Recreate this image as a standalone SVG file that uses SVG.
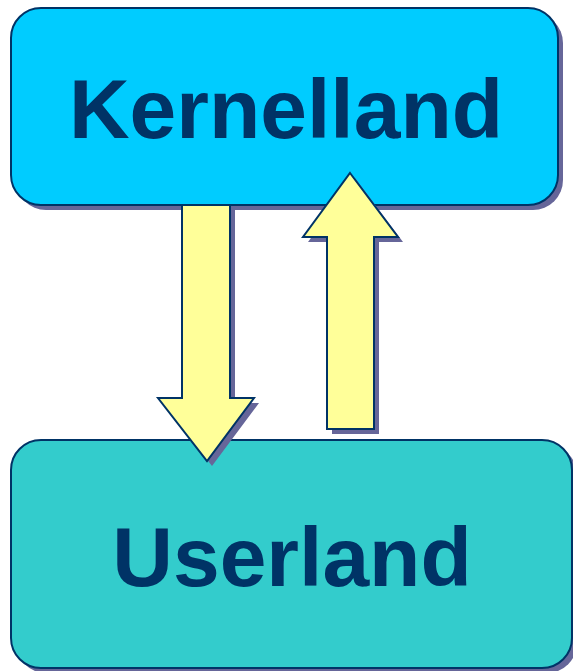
<svg xmlns="http://www.w3.org/2000/svg" width="573" height="671" viewBox="0 0 573 671">
<style>
.box{stroke:#003366;stroke-width:2}
.shadow{fill:#666699}
.arrow{fill:#FFFF99;stroke:#003366;stroke-width:2;stroke-linejoin:miter}
.label{font-family:"Liberation Sans",Arial,sans-serif;font-weight:bold;font-size:84px;fill:#003366;text-anchor:middle}
</style>
<rect width="573" height="671" fill="#ffffff"/>
<g id="kernelland">
<rect class="shadow" x="16" y="13" width="547" height="197" rx="30"/>
<rect class="box" x="11" y="8" width="547" height="197" rx="30" fill="#00CCFF"/>
<text class="label" x="286" y="138">Kernelland</text>
</g>
<g id="userland">
<rect class="shadow" x="16" y="445" width="561" height="228" rx="30"/>
<rect class="box" x="11" y="440" width="561" height="228" rx="30" fill="#33CCCC"/>
<text class="label" x="292" y="586">Userland</text>
</g>
<g id="connectors">
<polygon class="shadow" points="187,210 235,210 235,403 259,403 212,466 163,403 187,403"/>
<polygon class="arrow" points="182,205 230,205 230,398 254,398 207,461 158,398 182,398"/>
<polygon class="shadow" points="355,178 403,242 379,242 379,434 332,434 332,242 308,242"/>
<polygon class="arrow" points="350,173 398,237 374,237 374,429 327,429 327,237 303,237"/>
</g>
</svg>
